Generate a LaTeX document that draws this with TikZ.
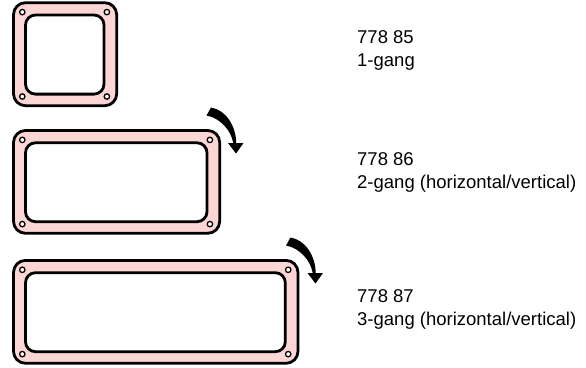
\documentclass[tikz,border=0pt]{standalone}
\usepackage{fontspec}
\setmainfont{Liberation Sans}
\definecolor{framepink}{RGB}{252,214,212}
\tikzset{
  outerframe/.style={draw=black,line width=2.8pt,fill=framepink,rounded corners=12pt},
  innerframe/.style={draw=black,line width=2.8pt,fill=white,rounded corners=10pt},
  screwhole/.style={draw=black,line width=1.3pt,fill=white},
  labeltext/.style={anchor=north west,inner sep=0pt,align=left,font=\fontsize{18.5}{23}\selectfont}
}
\newcommand{\gangframe}[3]{% right edge, top, bottom
  \path[outerframe] (13.5,#2) rectangle (#1,#3);
  \path[innerframe] (25.5,#2+12.3) rectangle (#1-12.7,#3-11.6);
  \path[screwhole] (22.3,#2+9.4) circle (2.7);
  \path[screwhole] (#1-9.8,#2+9.4) circle (2.7);
  \path[screwhole] (22.3,#3-9.2) circle (2.7);
  \path[screwhole] (#1-9.8,#3-9.2) circle (2.7);
}
\newcommand{\turnarrow}[2]{% shift
  \fill[black,shift={(#1,#2)}] (206.5,115.5) -- (211,107.5) .. controls (226,110) and (236,126) .. (236.2,143)
   -- (243.5,143) -- (236,153.5) -- (228,143) -- (233.2,143) .. controls (231,130) and (220,118) .. cycle;
}
\begin{document}
\begin{tikzpicture}[x=1pt,y=-1pt]
\useasboundingbox (0,0) rectangle (586,367);
\gangframe{116.7}{2.7}{105.7}
\gangframe{219.7}{130.5}{233.3}
\gangframe{298}{260.4}{363.3}
\turnarrow{0}{0}
\turnarrow{79.5}{130}
\node[labeltext] (a) at (357,30.5) {778 85\\1-gang};
\node[labeltext] (b) at (357,152) {778 86\\2-gang (horizontal/vertical)};
\node[labeltext] (c) at (357,289) {778 87\\3-gang (horizontal/vertical)};
\end{tikzpicture}
\end{document}
